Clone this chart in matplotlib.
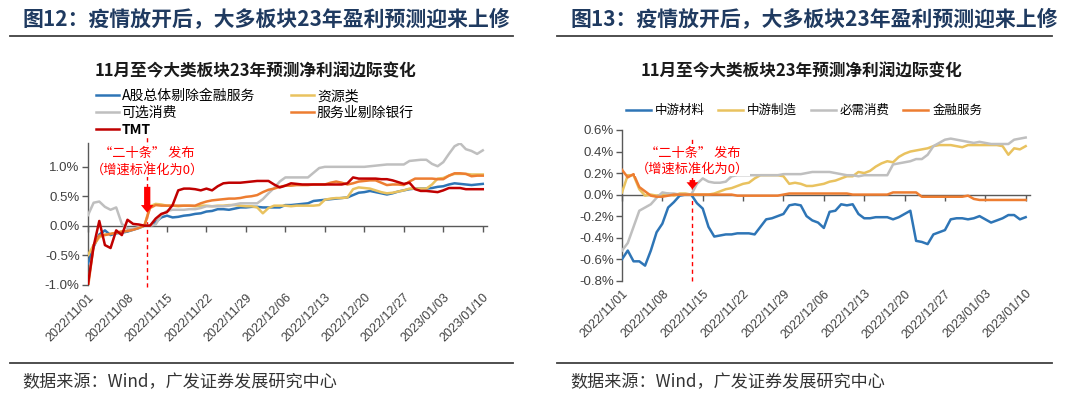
import pandas as pd
import matplotlib
matplotlib.use("Agg")
import matplotlib.pyplot as plt
from matplotlib.lines import Line2D

plt.rcParams['font.family'] = ['Noto Sans CJK SC', 'DejaVu Sans']
plt.rcParams['axes.unicode_minus'] = False

W, H = 1080, 398

# ---- data (% change of 2023 net profit forecast, normalised to 0 on release day) ----
dates = pd.date_range("2022-11-01", "2023-01-10", freq="D")
tick_dates = pd.date_range("2022-11-01", "2023-01-10", freq="7D")

# fig 12
a_ex_fin = [-0.64, -0.36, -0.15, -0.08, -0.16, -0.13, -0.12, -0.10, -0.07, -0.04,
            0.00, 0.00, 0.06, 0.14, 0.17, 0.14, 0.15, 0.17, 0.18, 0.20,
            0.21, 0.24, 0.25, 0.28, 0.28, 0.27, 0.29, 0.31, 0.31, 0.32,
            0.32, 0.31, 0.31, 0.31, 0.31, 0.35, 0.35, 0.36, 0.37, 0.38,
            0.42, 0.43, 0.44, 0.45, 0.46, 0.47, 0.48, 0.52, 0.56, 0.57,
            0.59, 0.57, 0.55, 0.53, 0.55, 0.58, 0.60, 0.62, 0.63, 0.63,
            0.63, 0.64, 0.66, 0.67, 0.70, 0.72, 0.71, 0.70, 0.69, 0.70,
            0.71]
resources = [-0.50, -0.33, -0.20, -0.15, -0.14, -0.12, -0.10, -0.09, -0.06, -0.03,
             0.00, 0.33, 0.37, 0.36, 0.34, 0.34, 0.33, 0.34, 0.34, 0.33,
             0.34, 0.34, 0.33, 0.34, 0.34, 0.35, 0.35, 0.34, 0.33, 0.33,
             0.31, 0.21, 0.30, 0.34, 0.34, 0.34, 0.33, 0.34, 0.34, 0.34,
             0.34, 0.35, 0.44, 0.46, 0.47, 0.47, 0.48, 0.62, 0.65, 0.64,
             0.63, 0.60, 0.57, 0.55, 0.56, 0.58, 0.60, 0.63, 0.63, 0.63,
             0.63, 0.70, 0.80, 0.81, 0.85, 0.88, 0.88, 0.88, 0.87, 0.87,
             0.87]
opt_consumer = [0.18, 0.39, 0.41, 0.32, 0.27, 0.31, 0.03, -0.05, -0.05, -0.03,
                0.00, 0.00, 0.02, 0.18, 0.25, 0.27, 0.27, 0.27, 0.28, 0.28,
                0.30, 0.33, 0.33, 0.33, 0.33, 0.34, 0.36, 0.38, 0.38, 0.38,
                0.38, 0.45, 0.55, 0.64, 0.75, 0.82, 0.82, 0.82, 0.82, 0.82,
                0.90, 0.98, 1.00, 1.00, 1.00, 1.00, 1.00, 1.00, 1.00, 1.00,
                1.01, 1.02, 1.03, 1.04, 1.04, 1.04, 1.04, 1.10, 1.11, 1.12,
                1.12, 1.05, 1.01, 1.08, 1.22, 1.35, 1.40, 1.30, 1.27, 1.22,
                1.28]
services_ex_bank = [-1.05, -0.33, -0.17, -0.16, -0.14, -0.12, -0.10, -0.09, -0.07, -0.04,
                    0.00, 0.30, 0.35, 0.34, 0.34, 0.34, 0.34, 0.34, 0.34, 0.34,
                    0.38, 0.41, 0.43, 0.44, 0.45, 0.46, 0.46, 0.47, 0.49, 0.50,
                    0.52, 0.57, 0.61, 0.63, 0.66, 0.68, 0.68, 0.69, 0.69, 0.69,
                    0.70, 0.70, 0.70, 0.73, 0.75, 0.73, 0.70, 0.72, 0.75, 0.76,
                    0.77, 0.77, 0.73, 0.69, 0.70, 0.70, 0.69, 0.75, 0.80, 0.80,
                    0.80, 0.80, 0.79, 0.79, 0.85, 0.89, 0.89, 0.88, 0.84, 0.85,
                    0.85]
tmt = [-0.99, -0.35, 0.08, -0.33, -0.38, -0.08, -0.16, 0.10, 0.03, 0.02,
       0.00, 0.00, 0.12, 0.20, 0.23, 0.35, 0.60, 0.63, 0.63, 0.62,
       0.60, 0.63, 0.60, 0.67, 0.72, 0.73, 0.73, 0.73, 0.74, 0.75,
       0.76, 0.76, 0.76, 0.70, 0.65, 0.68, 0.72, 0.71, 0.70, 0.70,
       0.70, 0.70, 0.70, 0.70, 0.70, 0.70, 0.72, 0.82, 0.80, 0.80,
       0.80, 0.80, 0.79, 0.79, 0.77, 0.74, 0.71, 0.73, 0.62, 0.59,
       0.59, 0.58, 0.57, 0.60, 0.64, 0.64, 0.64, 0.62, 0.62, 0.62,
       0.62]

# fig 13
mid_materials = [-0.60, -0.52, -0.62, -0.62, -0.66, -0.52, -0.35, -0.27, -0.12, -0.07,
                 -0.01, 0.00, 0.00, -0.08, -0.13, -0.30, -0.39, -0.38, -0.37, -0.37,
                 -0.36, -0.36, -0.36, -0.37, -0.30, -0.23, -0.22, -0.20, -0.18, -0.10,
                 -0.09, -0.10, -0.20, -0.24, -0.26, -0.31, -0.16, -0.15, -0.09, -0.10,
                 -0.09, -0.18, -0.22, -0.22, -0.21, -0.21, -0.21, -0.23, -0.21, -0.18,
                 -0.15, -0.43, -0.44, -0.46, -0.37, -0.35, -0.33, -0.23, -0.22, -0.22,
                 -0.23, -0.22, -0.20, -0.23, -0.26, -0.24, -0.22, -0.19, -0.19, -0.23,
                 -0.21]
mid_manufacturing = [0.02, 0.18, 0.18, 0.05, -0.01, 0.00, -0.01, 0.00, 0.01, -0.01,
                     0.01, 0.01, 0.00, 0.00, 0.00, 0.00, 0.01, 0.03, 0.05, 0.06,
                     0.08, 0.10, 0.11, 0.15, 0.18, 0.18, 0.18, 0.18, 0.17, 0.10,
                     0.11, 0.10, 0.08, 0.08, 0.09, 0.10, 0.12, 0.13, 0.15, 0.17,
                     0.17, 0.21, 0.20, 0.22, 0.26, 0.29, 0.31, 0.30, 0.35, 0.38,
                     0.40, 0.41, 0.42, 0.43, 0.45, 0.46, 0.46, 0.46, 0.45, 0.44,
                     0.46, 0.46, 0.46, 0.46, 0.46, 0.46, 0.45, 0.37, 0.43, 0.42,
                     0.45]
staples = [-0.52, -0.45, -0.30, -0.15, -0.12, -0.09, -0.03, 0.02, 0.01, 0.01,
           0.00, 0.00, 0.00, 0.10, 0.15, 0.12, 0.11, 0.11, 0.12, 0.17,
           0.18, 0.18, 0.18, 0.18, 0.18, 0.18, 0.18, 0.18, 0.19, 0.19,
           0.19, 0.19, 0.20, 0.21, 0.21, 0.21, 0.21, 0.20, 0.19, 0.18,
           0.18, 0.17, 0.18, 0.18, 0.18, 0.18, 0.18, 0.28, 0.29, 0.30,
           0.31, 0.33, 0.33, 0.37, 0.45, 0.48, 0.51, 0.52, 0.51, 0.50,
           0.49, 0.48, 0.49, 0.48, 0.47, 0.47, 0.47, 0.47, 0.51, 0.52,
           0.53]
financials = [0.23, 0.16, 0.19, 0.07, 0.03, -0.01, -0.02, -0.02, -0.01, 0.00,
              0.00, 0.00, 0.00, 0.00, 0.00, 0.00, 0.00, 0.00, 0.00, 0.00,
              -0.01, -0.01, -0.01, -0.01, -0.01, -0.01, -0.01, -0.01, 0.00, 0.01,
              0.01, 0.01, 0.01, 0.01, 0.01, 0.01, 0.01, 0.01, 0.01, 0.01,
              0.00, 0.00, 0.00, 0.00, 0.00, 0.00, 0.00, 0.02, 0.02, 0.02,
              0.02, 0.02, -0.02, -0.02, -0.02, -0.02, -0.02, -0.02, -0.02, -0.02,
              -0.01, -0.04, -0.05, -0.05, -0.05, -0.05, -0.05, -0.05, -0.05, -0.05,
              -0.05]

release_left = pd.Timestamp("2022-11-11 12:00")
release_right = pd.Timestamp("2022-11-13 05:00")

BLUE, GOLD, GREY, ORANGE, RED = '#2E75B6', '#E9C25F', '#BFBFBF', '#ED7D31', '#C00000'
TXT = '#404040'
LAT = ['Liberation Sans', 'Noto Sans CJK SC']


def fx(x):
    return x / W


def fy(y):
    return 1 - y / H


def style_axes(ax, ylim, yticks, lab_size):
    ax.set_xlim(dates[0], dates[-1] + pd.Timedelta(hours=18))
    ax.set_ylim(*ylim)
    for s in ['top', 'right', 'bottom']:
        ax.spines[s].set_visible(False)
    ax.spines['left'].set_color('#595959')
    ax.spines['left'].set_linewidth(1)
    ax.set_yticks(yticks)
    ax.set_yticklabels([f"{v:.1f}%" for v in yticks], family=LAT, fontsize=lab_size, color=TXT)
    ax.tick_params(axis='y', length=4, width=1, color='#595959', pad=2)
    ax.set_xticks(tick_dates)
    ax.set_xticklabels([d.strftime("%Y/%m/%d") for d in tick_dates], rotation=45,
                       ha='right', rotation_mode='anchor', family=LAT,
                       fontsize=9, color=TXT)
    ax.tick_params(axis='x', length=0, pad=5)
    # category axis line crosses at zero
    zero = (0 - ylim[0]) / (ylim[1] - ylim[0])
    sec = ax.secondary_xaxis(zero)
    sec.set_alignment('bottom')
    sec.set_xticks(tick_dates)
    sec.tick_params(axis='x', direction='out', length=4, width=1, color='#595959',
                    labelbottom=False, labeltop=False)
    sec.spines['bottom'].set_color('#595959')
    sec.spines['bottom'].set_linewidth(1)


def release_mark(ax, when, text_y, arrow_top, arrow_tip, ymin, ymax, head, tail, hlen, fs):
    ax.axvline(when, ymin=ymin, ymax=ymax, color='red', lw=1, ls=(0, (3, 2.5)),
               clip_on=False, zorder=1)
    ax.text(when, text_y[0], "“二十条” 发布", color='red', fontsize=fs,
            ha='center', va='center', zorder=6,
            bbox=dict(facecolor='white', edgecolor='none', pad=0.5))
    ax.text(when, text_y[1], "（增速标准化为0）", color='red', fontsize=fs,
            ha='center', va='center', zorder=6,
            bbox=dict(facecolor='white', edgecolor='none', pad=0.5))
    ax.annotate('', xy=(when, arrow_tip), xytext=(when, arrow_top),
                arrowprops=dict(arrowstyle=f'simple,head_width={head},tail_width={tail},head_length={hlen}',
                                color='red', lw=0, shrinkA=0, shrinkB=0,
                                mutation_scale=10), zorder=7)


fig = plt.figure(figsize=(W / 100, H / 100), dpi=100)
fig.patch.set_facecolor('white')

# headers / footers
for x0, x1, title_x, num in [(10, 513, 22, 12), (557, 1052, 570, 13)]:
    fig.text(fx(title_x), fy(20), f"图{num}：疫情放开后，大多板块23年盈利预测迎来上修",
             fontsize=15, fontweight='bold', color='#1F3A60', va='center', ha='left')
    fig.add_artist(Line2D([fx(x0), fx(x1)], [fy(36), fy(36)], transform=fig.transFigure,
                          color='#404040', lw=1.3))
    fig.add_artist(Line2D([fx(x0), fx(x1)], [fy(363), fy(363)], transform=fig.transFigure,
                          color='#404040', lw=1.3))
    fig.text(fx(title_x), fy(382), "数据来源：Wind，广发证券发展研究中心",
             fontsize=12.3, color='#333333', va='center', ha='left')

# ---- left chart ----
ax1 = fig.add_axes([fx(88), fy(284.5), 399 / W, 141.2 / H])
fig.text(fx(256), fy(71), "11月至今大类板块23年预测净利润边际变化", fontsize=12,
         fontweight='bold', color='#1a1a1a', ha='center', va='center')
left_series = [(a_ex_fin, 'A股总体剔除金融服务', BLUE),
               (resources, '资源类', GOLD),
               (opt_consumer, '可选消费', GREY),
               (services_ex_bank, '服务业剔除银行', ORANGE),
               (tmt, 'TMT', RED)]
handles = {}
for vals, name, col in left_series:
    handles[name], = ax1.plot(dates, vals, color=col, lw=1.8, label=name, zorder=3)
style_axes(ax1, (-1.0, 1.4), [-1.0, -0.5, 0.0, 0.5, 1.0], 9.5)
release_mark(ax1, release_left, (1.23, 0.95), 0.66, 0.22, -0.02, 1.055, 0.9, 0.45, 0.55, 9.5)
order = ['A股总体剔除金融服务', '可选消费', 'TMT', '资源类', '服务业剔除银行']
leg1 = fig.legend([handles[k] for k in order], order, loc='upper left',
                  bbox_to_anchor=(fx(96), fy(89)), ncol=2, frameon=False,
                  fontsize=10, handlelength=1.65, handletextpad=0.2,
                  columnspacing=2.6, labelspacing=0.2, borderpad=0, borderaxespad=0)
for t in leg1.get_texts():
    if t.get_text() == 'TMT':
        t.set_fontweight('bold')

# ---- right chart ----
ax2 = fig.add_axes([fx(622), fy(280.7), 408 / W, 150.7 / H])
fig.text(fx(801), fy(71), "11月至今大类板块23年预测净利润边际变化", fontsize=12,
         fontweight='bold', color='#1a1a1a', ha='center', va='center')
right_series = [(mid_materials, '中游材料', BLUE),
                (mid_manufacturing, '中游制造', GOLD),
                (staples, '必需消费', GREY),
                (financials, '金融服务', ORANGE)]
for vals, name, col in right_series:
    ax2.plot(dates, vals, color=col, lw=1.8, label=name, zorder=3)
style_axes(ax2, (-0.8, 0.6), [-0.8, -0.6, -0.4, -0.2, 0.0, 0.2, 0.4, 0.6], 9.5)
release_mark(ax2, release_right, (0.38, 0.24), 0.135, 0.05, 0.0, 0.955, 0.85, 0.4, 0.5, 9.5)
ax2.legend(loc='upper center', bbox_to_anchor=(fx(804), fy(104)),
           bbox_transform=fig.transFigure, ncol=4, frameon=False, fontsize=9,
           handlelength=2.0, handletextpad=0.3, columnspacing=1.1,
           borderpad=0, borderaxespad=0)

fig.savefig("out.png", dpi=100, facecolor='white')
